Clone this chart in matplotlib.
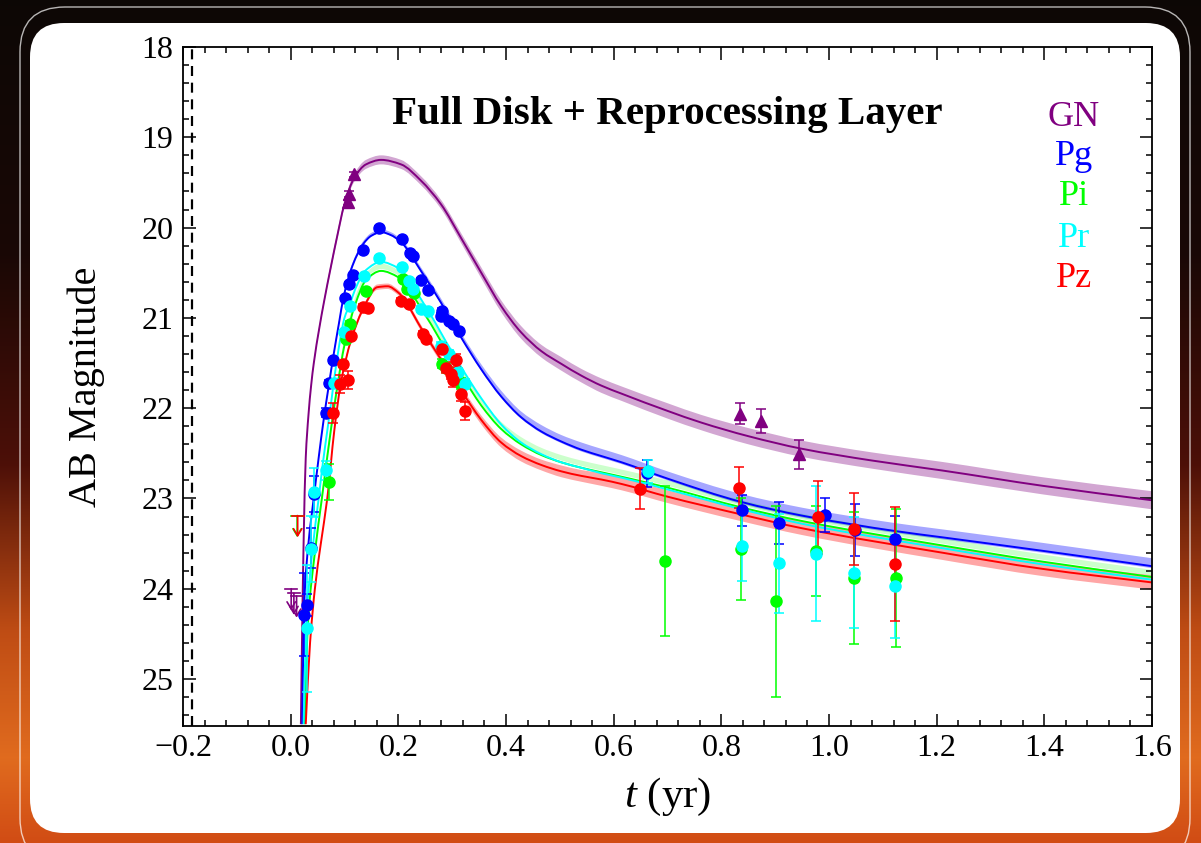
import numpy as np
import matplotlib
matplotlib.use("Agg")
import matplotlib.pyplot as plt
from matplotlib.patches import FancyBboxPatch, PathPatch
from matplotlib.path import Path
from matplotlib.transforms import IdentityTransform
from matplotlib.ticker import MultipleLocator, FuncFormatter

plt.rcParams['font.family'] = ['Liberation Serif', 'DejaVu Serif']
plt.rcParams['mathtext.fontset'] = 'custom'
plt.rcParams['mathtext.rm'] = 'Liberation Serif'
plt.rcParams['mathtext.it'] = 'Liberation Serif:italic'

# ---------------- model curves ----------------
gn_t = [0.019, 0.021, 0.024, 0.028, 0.033, 0.038, 0.043, 0.053, 0.062, 0.0745, 0.087, 0.099, 0.118,
        0.14, 0.168, 0.205, 0.242, 0.279, 0.317, 0.354, 0.391, 0.428, 0.466, 0.503, 0.54, 0.577,
        0.615, 0.70, 0.763, 0.85, 0.95, 1.08, 1.21, 1.397, 1.6]
gn_m = [25.5, 24.6, 23.5, 22.55, 22.08, 21.75, 21.5, 21.12, 20.82, 20.44, 20.08, 19.76, 19.45,
        19.3, 19.25, 19.30, 19.48, 19.74, 20.12, 20.5, 20.87, 21.16, 21.37, 21.51, 21.64, 21.75,
        21.84, 22.03, 22.16, 22.31, 22.45, 22.58, 22.69, 22.86, 23.02]
gn_band = [0.02, 0.02, 0.02, 0.03, 0.03, 0.03, 0.03, 0.03, 0.03, 0.04, 0.04, 0.04, 0.045,
           0.05, 0.05, 0.05, 0.05, 0.05, 0.055, 0.06, 0.065, 0.07, 0.07, 0.075, 0.075, 0.08,
           0.08, 0.085, 0.085, 0.09, 0.09, 0.09, 0.095, 0.095, 0.1]

pg_t = [0.0215, 0.025, 0.033, 0.043, 0.052, 0.061, 0.070, 0.080, 0.090, 0.099, 0.115, 0.135, 0.150,
        0.168, 0.185, 0.205, 0.242, 0.279, 0.317, 0.354, 0.391, 0.428, 0.466, 0.503, 0.54, 0.577,
        0.615, 0.70, 0.838, 0.95, 1.122, 1.21, 1.397, 1.6]
pg_m = [25.5, 24.2, 23.5, 22.99, 22.55, 22.14, 21.78, 21.4, 21.05, 20.75, 20.42, 20.18, 20.09,
        20.05, 20.08, 20.16, 20.48, 20.83, 21.22, 21.57, 21.87, 22.1, 22.26, 22.37, 22.46, 22.53,
        22.6, 22.78, 23.04, 23.19, 23.36, 23.43, 23.58, 23.75]
pg_band = [0.01, 0.01, 0.01, 0.015, 0.015, 0.015, 0.02, 0.02, 0.02, 0.02, 0.02, 0.02, 0.02,
           0.02, 0.02, 0.02, 0.025, 0.03, 0.03, 0.035, 0.04, 0.04, 0.045, 0.045, 0.05, 0.05,
           0.05, 0.05, 0.055, 0.055, 0.055, 0.055, 0.055, 0.055]

pi_t = [0.026, 0.032, 0.045, 0.058, 0.0745, 0.087, 0.100, 0.120, 0.140, 0.168, 0.200, 0.248, 0.300,
        0.335, 0.354, 0.391, 0.428, 0.466, 0.503, 0.540, 0.577, 0.615, 0.70, 0.838, 0.95, 1.21,
        1.397, 1.6]
pi_m = [25.5, 24.4, 23.6, 23.0, 22.25, 21.75, 21.3, 20.85, 20.58, 20.48, 20.55, 20.95, 21.47,
        21.8, 21.97, 22.23, 22.4, 22.52, 22.6, 22.66, 22.71, 22.76, 22.88, 23.1, 23.25, 23.52,
        23.7, 23.87]

pr_t = [0.024, 0.029, 0.040, 0.052, 0.060, 0.068, 0.076, 0.085, 0.100, 0.110, 0.120, 0.140, 0.168,
        0.200, 0.248, 0.300, 0.335, 0.354, 0.391, 0.428, 0.466, 0.503, 0.540, 0.577, 0.615, 0.70,
        0.838, 0.95, 1.21, 1.397, 1.6]
pr_m = [25.5, 24.4, 23.6, 23.0, 22.6, 22.25, 21.9, 21.5, 21.0, 20.85, 20.68, 20.47, 20.38,
        20.45, 20.85, 21.38, 21.72, 21.89, 22.18, 22.38, 22.51, 22.6, 22.66, 22.72, 22.77, 22.9,
        23.12, 23.28, 23.55, 23.73, 23.9]

pz_t = [0.028, 0.036, 0.045, 0.056, 0.068, 0.081, 0.093, 0.112, 0.133, 0.161, 0.180, 0.200, 0.248,
        0.300, 0.335, 0.354, 0.391, 0.428, 0.466, 0.503, 0.540, 0.577, 0.615, 0.70, 0.832, 0.95,
        1.21, 1.397, 1.6]
pz_m = [25.5, 24.6, 24.0, 23.5, 23.0, 22.25, 21.73, 21.25, 20.92, 20.66, 20.65, 20.72, 21.17,
        21.65, 21.97, 22.13, 22.38, 22.53, 22.63, 22.7, 22.75, 22.79, 22.84, 22.98, 23.17, 23.33,
        23.6, 23.78, 23.93]
pz_band = [0.02, 0.02, 0.02, 0.02, 0.02, 0.025, 0.025, 0.03, 0.03, 0.03, 0.03, 0.03, 0.035,
           0.04, 0.045, 0.05, 0.055, 0.06, 0.06, 0.065, 0.065, 0.07, 0.07, 0.07, 0.075, 0.075,
           0.08, 0.08, 0.08]

# ---------------- observations ----------------
gn_pt_t = [0.107, 0.109, 0.118, 0.835, 0.874, 0.944]
gn_pt_m = [19.72, 19.63, 19.41, 22.06, 22.14, 22.51]
gn_pt_e = [0.03, 0.03, 0.03, 0.12, 0.13, 0.16]

pg_pt_t = [0.024, 0.031, 0.037, 0.043, 0.065, 0.0714, 0.0795, 0.101, 0.109, 0.115, 0.135, 0.164,
           0.206, 0.222, 0.228, 0.242, 0.256, 0.279, 0.282, 0.295, 0.301, 0.312,
           0.662, 0.838, 0.908, 0.993, 1.049, 1.122]
pg_pt_m = [24.29, 24.18, 23.55, 22.95, 22.05, 21.72, 21.47, 20.78, 20.62, 20.53, 20.25, 20.00,
           20.13, 20.28, 20.32, 20.58, 20.69, 20.98, 20.92, 21.03, 21.07, 21.14,
           22.72, 23.13, 23.27, 23.18, 23.35, 23.45]
pg_pt_e = [0.46, 0.12, 0.22, 0.2, 0.05, 0.03, 0.03, 0.02, 0.02, 0.02, 0.02, 0.02,
           0.02, 0.02, 0.02, 0.02, 0.02, 0.03, 0.03, 0.03, 0.03, 0.03,
           0.15, 0.17, 0.23, 0.19, 0.29, 0.26]

pi_pt_t = [0.071, 0.102, 0.110, 0.140, 0.208, 0.216, 0.230, 0.282, 0.289, 0.317,
           0.695, 0.837, 0.902, 0.975, 1.047, 1.125]
pi_pt_m = [22.82, 21.23, 21.07, 20.70, 20.57, 20.68, 20.72, 21.51, 21.55, 21.73,
           23.69, 23.56, 24.14, 23.58, 23.88, 23.88]
pi_pt_e = [0.2, 0.03, 0.03, 0.03, 0.03, 0.03, 0.03, 0.05, 0.05, 0.06,
           0.83, 0.56, 1.06, 0.5, 0.73, 0.76]

pr_pt_t = [0.031, 0.037, 0.043, 0.065, 0.081, 0.099, 0.110, 0.137, 0.164, 0.206, 0.220, 0.227,
           0.242, 0.255, 0.279, 0.295, 0.310, 0.323, 0.664, 0.838, 0.908, 0.975, 1.047, 1.122]
pr_pt_m = [24.44, 23.56, 22.93, 22.69, 21.72, 21.16, 20.87, 20.54, 20.34, 20.44, 20.59, 20.68,
           20.90, 20.92, 21.31, 21.40, 21.60, 21.73, 22.70, 23.53, 23.72, 23.61, 23.82, 23.97]
pr_pt_e = [0.7, 0.37, 0.27, 0.1, 0.04, 0.03, 0.03, 0.02, 0.02, 0.02, 0.02, 0.02,
           0.03, 0.03, 0.04, 0.04, 0.05, 0.05, 0.13, 0.38, 0.55, 0.75, 0.62, 0.57]

pz_pt_t = [0.078, 0.092, 0.098, 0.107, 0.113, 0.135, 0.143, 0.205, 0.220, 0.245, 0.251, 0.281,
           0.289, 0.298, 0.301, 0.308, 0.317, 0.324, 0.649, 0.832, 0.980, 1.047, 1.123]
pz_pt_m = [22.05, 21.73, 21.51, 21.69, 21.20, 20.88, 20.89, 20.81, 20.85, 21.18, 21.23, 21.34,
           21.55, 21.62, 21.69, 21.47, 21.84, 22.03, 22.89, 22.88, 23.21, 23.34, 23.73]
pz_pt_e = [0.11, 0.1, 0.03, 0.1, 0.03, 0.03, 0.03, 0.03, 0.03, 0.03, 0.03, 0.06,
           0.06, 0.06, 0.08, 0.07, 0.08, 0.1, 0.23, 0.23, 0.4, 0.4, 0.63]

# upper limits
gn_ul_t = [0.001, 0.006, 0.011]
gn_ul_m = [24.0, 24.05, 24.08]
pi_ul_t = [0.012]
pi_ul_m = [23.19]
pz_ul_t = [0.013]
pz_ul_m = [23.19]

bands = ['GN', 'Pg', 'Pi', 'Pr', 'Pz']

C_GN, C_PG, C_PI, C_PR, C_PZ = '#800080', '#0000ff', '#00ff00', '#00ffff', '#ff0000'

W, H = 1201, 843
fig = plt.figure(figsize=(W / 100, H / 100), dpi=100)

# background
bg = fig.add_axes([0, 0, 1, 1], zorder=-10)
yy = np.linspace(0, 1, 300)
stops = [0.0, 0.3, 0.55, 0.75, 0.9, 1.0]
cols = np.array([[0.05, 0.03, 0.02], [0.10, 0.03, 0.02], [0.30, 0.06, 0.03],
                 [0.75, 0.30, 0.08], [0.88, 0.42, 0.12], [0.82, 0.30, 0.08]])
img = np.stack([np.interp(yy, stops, cols[:, k]) for k in range(3)], axis=-1)
img = np.repeat(img[:, None, :], 10, axis=1)
bg.imshow(img, aspect='auto', extent=[0, 1, 0, 1], origin='upper')
bg.axis('off')

outer = FancyBboxPatch((20, -20), 1170, 856, boxstyle='round,pad=0,rounding_size=45',
                       fc='none', ec=(1, 1, 1, 0.7), lw=1.0, transform=IdentityTransform(), zorder=-5)
panel = FancyBboxPatch((30, H - 833), 1150, 810, boxstyle='round,pad=0,rounding_size=34',
                       fc='white', ec='none', transform=IdentityTransform(), zorder=-4)
fig.add_artist(outer)
fig.add_artist(panel)

ax_l, ax_r, ax_t, ax_b = 183, 1152, 47, 726
ax = fig.add_axes([ax_l / W, (H - ax_b) / H, (ax_r - ax_l) / W, (ax_b - ax_t) / H])


def pchip_slopes(x, y):
    x = np.asarray(x, float)
    y = np.asarray(y, float)
    h = np.diff(x)
    d = np.diff(y) / h
    m = np.zeros_like(y)
    for k in range(1, len(x) - 1):
        if d[k - 1] * d[k] <= 0:
            m[k] = 0.0
        else:
            w1 = 2 * h[k] + h[k - 1]
            w2 = h[k] + 2 * h[k - 1]
            m[k] = (w1 + w2) / (w1 / d[k - 1] + w2 / d[k])
    m[0] = d[0]
    m[-1] = d[-1]
    return m


def bezier_verts(x, y, reverse=False):
    x = np.asarray(x, float)
    y = np.asarray(y, float)
    m = pchip_slopes(x, y)
    pts = [(x[0], y[0])]
    for k in range(len(x) - 1):
        h = x[k + 1] - x[k]
        pts.append((x[k] + h / 3, y[k] + m[k] * h / 3))
        pts.append((x[k + 1] - h / 3, y[k + 1] - m[k + 1] * h / 3))
        pts.append((x[k + 1], y[k + 1]))
    if reverse:
        pts = pts[::-1]
    return pts


def smooth_line(x, y, color, lw=1.4, z=2):
    v = bezier_verts(x, y)
    codes = [Path.MOVETO] + [Path.CURVE4] * (len(v) - 1)
    ax.add_patch(PathPatch(Path(v, codes), fill=False, ec=color, lw=lw, zorder=z,
                           capstyle='butt', joinstyle='round'))


def smooth_band(x, lo, hi, color, alpha):
    vu = bezier_verts(x, hi)
    vl = bezier_verts(x, lo, reverse=True)
    v = vu + vl + [vu[0]]
    codes = ([Path.MOVETO] + [Path.CURVE4] * (len(vu) - 1) + [Path.LINETO]
             + [Path.CURVE4] * (len(vl) - 1) + [Path.CLOSEPOLY])
    ax.add_patch(PathPatch(Path(v, codes), fc=color, ec='none', alpha=alpha, zorder=1))


gm, gb = np.array(gn_m), np.array(gn_band)
smooth_band(gn_t, gm - gb, gm + gb, C_GN, 0.35)
bm, bb = np.array(pg_m), np.array(pg_band)
smooth_band(pg_t, bm - 1.6 * bb, bm + 0.4 * bb, C_PG, 0.35)
rm, rb = np.array(pz_m), np.array(pz_band)
smooth_band(pz_t, rm - rb, rm + rb, C_PZ, 0.35)
im = np.array(pi_m)
smooth_band(pi_t, im - 0.08, im - 0.02, C_PI, 0.2)

smooth_line(gn_t, gn_m, C_GN)
smooth_line(pg_t, pg_m, C_PG)
smooth_line(pi_t, pi_m, C_PI)
smooth_line(pr_t, pr_m, C_PR)
smooth_line(pz_t, pz_m, C_PZ)

ax.axvline(-0.1827, color='black', lw=1.6, ls=(0, (4.5, 3)))

ekw = dict(ls='none', elinewidth=1.1, capsize=3.5, capthick=1.1, zorder=3)
ax.errorbar(gn_pt_t, gn_pt_m, yerr=gn_pt_e, marker='^', ms=9, color=C_GN, **ekw)
ax.errorbar(pg_pt_t, pg_pt_m, yerr=pg_pt_e, marker='o', ms=8, color=C_PG, **ekw)
ax.errorbar(pi_pt_t, pi_pt_m, yerr=pi_pt_e, marker='o', ms=8, color=C_PI, **ekw)
ax.errorbar(pr_pt_t, pr_pt_m, yerr=pr_pt_e, marker='o', ms=8, color=C_PR, **ekw)
ax.errorbar(pz_pt_t, pz_pt_m, yerr=pz_pt_e, marker='o', ms=8, color=C_PZ, **ekw)


def upper_limits(ts, ms, color):
    for t, m in zip(ts, ms):
        ax.plot([t - 0.011, t + 0.011], [m, m], color=color, lw=1.2, zorder=3)
        ax.annotate('', xy=(t, m + 0.24), xytext=(t, m),
                    arrowprops=dict(arrowstyle='->,head_length=0.5,head_width=0.3',
                                    color=color, lw=1.2, shrinkA=0, shrinkB=0), zorder=3)


upper_limits(gn_ul_t, gn_ul_m, C_GN)
upper_limits(pi_ul_t, pi_ul_m, C_PI)
upper_limits(pz_ul_t, pz_ul_m, C_PZ)

ax.set_xlim(-0.2, 1.6)
ax.set_ylim(25.52, 18)
ax.xaxis.set_major_locator(MultipleLocator(0.2))
ax.xaxis.set_minor_locator(MultipleLocator(0.04))
ax.yaxis.set_major_locator(MultipleLocator(1))
ax.yaxis.set_minor_locator(MultipleLocator(0.2))
ax.xaxis.set_major_formatter(FuncFormatter(
    lambda v, p: ('\u2212' if v < -1e-9 else '') + f'{abs(v):.1f}'))
ax.tick_params(which='both', direction='in', top=True, right=True, width=1.1, labelsize=23)
ax.tick_params(which='major', length=9)
ax.tick_params(which='minor', length=4.5)
ax.tick_params(axis='y', pad=7)
ax.tick_params(axis='x', pad=6)
for s in ax.spines.values():
    s.set_linewidth(1.3)

ax.set_ylabel('AB Magnitude', fontsize=29, labelpad=26)
ax.set_xlabel(r'$t$ (yr)', fontsize=31, labelpad=9)

ax.text(0.4995, 1 - (124 - ax_t) / (ax_b - ax_t), 'Full Disk + Reprocessing Layer',
        transform=ax.transAxes, ha='center', va='baseline', fontsize=29.5, fontweight='bold')

leg_cols = [C_GN, C_PG, C_PI, C_PR, C_PZ]
leg_base = [126, 165, 205, 246.7, 286.7]
for name, c, yb in zip(bands, leg_cols, leg_base):
    ax.text((1074 - ax_l) / (ax_r - ax_l), 1 - (yb - ax_t) / (ax_b - ax_t), name,
            transform=ax.transAxes, ha='center', va='baseline', fontsize=26, color=c)

fig.savefig('out.png', dpi=100)
